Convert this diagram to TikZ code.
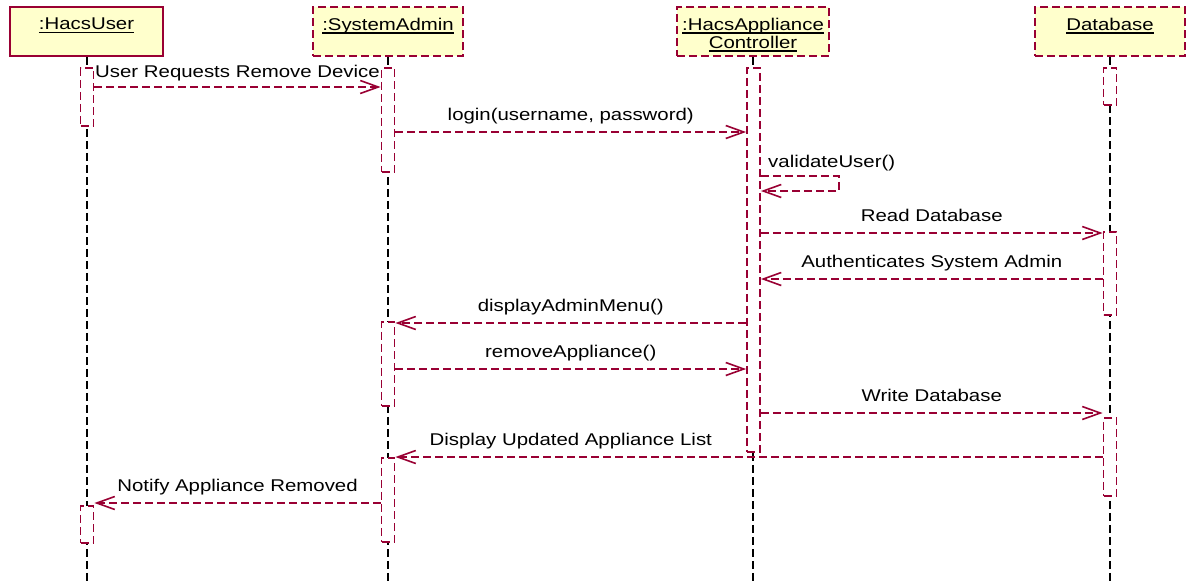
\documentclass[tikz,border=0pt]{standalone}
\usepackage{fontspec}
\setmainfont{Liberation Sans}[FakeStretch=1.2]
\usetikzlibrary{arrows.meta,calc}
\definecolor{umlred}{RGB}{153,0,51}
\definecolor{umlfill}{RGB}{255,255,204}
\newcommand\dgfont{\fontsize{17pt}{18pt}\selectfont}
\newsavebox\ulxbox
\newcommand\ulx[1]{\sbox\ulxbox{#1}\leavevmode\rlap{\raisebox{-3.4pt}{\rule{\wd\ulxbox}{1.6pt}}}\usebox\ulxbox}
\begin{document}
\begin{tikzpicture}[x=1pt,y=-1pt,
  headbox/.style={draw=umlred,fill=umlfill,line width=1.9pt,minimum height=49pt,inner sep=0pt},
  headdash/.style={headbox,dash pattern=on 8pt off 4pt},
  headtext/.style={anchor=north,inner sep=0pt,font=\dgfont,align=center},
  lifeline/.style={draw=black,line width=1.6pt,dash pattern=on 8pt off 4pt},
  actbox/.style={draw=umlred,fill=white,line width=1.8pt,dash pattern=on 8pt off 4pt,minimum width=13pt,inner sep=0pt,anchor=north},
  msg/.style={draw=umlred,line width=1.7pt,dash pattern=on 8pt off 4pt,-{Straight Barb[length=18pt,width=13pt,line width=1.6pt]}},
  lbl/.style={midway,anchor=base,yshift=12pt,inner sep=0pt,font=\dgfont}]
\useasboundingbox (0,0) rectangle (1190,582);
% heads
\node[headbox,minimum width=153pt] (hu) at (86.5,31.5) {};
\node[headdash,minimum width=150pt] (hs) at (388,31.5) {};
\node[headdash,minimum width=152pt] (hc) at (753,31.5) {};
\node[headdash,minimum width=150pt] (hd) at (1110,31.5) {};
\node[headtext] (tu) at (86.5,18) {\ulx{:HacsUser}};
\node[headtext] (ts) at (388,18) {\ulx{:SystemAdmin}};
\node[headtext] (tc) at (753,18) {\ulx{:HacsAppliance}\\\ulx{Controller}};
\node[headtext] (td) at (1110,18) {\ulx{Database}};
% lifeline ends
\coordinate (eu) at (87,582);
\coordinate (es) at (388,582);
\coordinate (ec) at (753,582);
\coordinate (ed) at (1110,582);
\draw[lifeline] (hu.south -| eu) -- (eu);
\draw[lifeline] (hs.south) -- (es);
\draw[lifeline] (hc.south) -- (ec);
\draw[lifeline] (hd.south) -- (ed);
% activations
\node[actbox,minimum height=58pt] (ua1) at (87,67) {};
\node[actbox,minimum height=37pt] (ua2) at (87,505) {};
\node[actbox,minimum height=104pt] (sa1) at (388,67) {};
\node[actbox,minimum height=84pt] (sa2) at (388,321) {};
\node[actbox,minimum height=84pt] (sa3) at (388,457) {};
\node[actbox,minimum height=384pt] (ca1) at (753.5,67) {};
\node[actbox,minimum height=37pt] (da1) at (1110,67) {};
\node[actbox,minimum height=83pt] (da2) at (1110,231) {};
\node[actbox,minimum height=78pt] (da3) at (1110,417) {};
% message rows
\coordinate (m1) at (0,87);
\coordinate (m2) at (0,132);
\coordinate (s1) at (0,176);
\coordinate (s2) at (0,191);
\coordinate (sx) at (839,0);
\coordinate (m4) at (0,233);
\coordinate (m5) at (0,279);
\coordinate (m6) at (0,323);
\coordinate (m7) at (0,369);
\coordinate (m8) at (0,413);
\coordinate (m9) at (0,457);
\coordinate (m10) at (0,503);
% messages
\draw[msg] (ua1.east |- m1) -- node[lbl,yshift=-2pt] {User Requests Remove Device} (sa1.west |- m1);
\draw[msg] (sa1.east |- m2) -- node[lbl] {login(username, password)} (ca1.west |- m2);
\draw[msg] (ca1.east |- s1) -- (sx |- s1) -- (sx |- s2) -- (ca1.east |- s2);
\node[anchor=base west,inner sep=0pt,font=\dgfont] (lv) at (768,167) {validateUser()};
\draw[msg] (ca1.east |- m4) -- node[lbl] {Read Database} (da2.west |- m4);
\draw[msg] (da2.west |- m5) -- node[lbl] {Authenticates System Admin} (ca1.east |- m5);
\draw[msg] (ca1.west |- m6) -- node[lbl] {displayAdminMenu()} (sa2.east |- m6);
\draw[msg] (sa2.east |- m7) -- node[lbl] {removeAppliance()} (ca1.west |- m7);
\draw[msg] (ca1.east |- m8) -- node[lbl] {Write Database} (da3.west |- m8);
\draw[msg] (da3.west |- m9) -- (sa3.east |- m9);
\node[anchor=base,inner sep=0pt,font=\dgfont] (l9) at ($(sa3.east |- m9)!0.5!(ca1.west |- m9) + (0,-12)$) {Display Updated Appliance List};
\draw[msg] (sa3.west |- m10) -- node[lbl] {Notify Appliance Removed} (ua2.east |- m10);
\end{tikzpicture}
\end{document}
